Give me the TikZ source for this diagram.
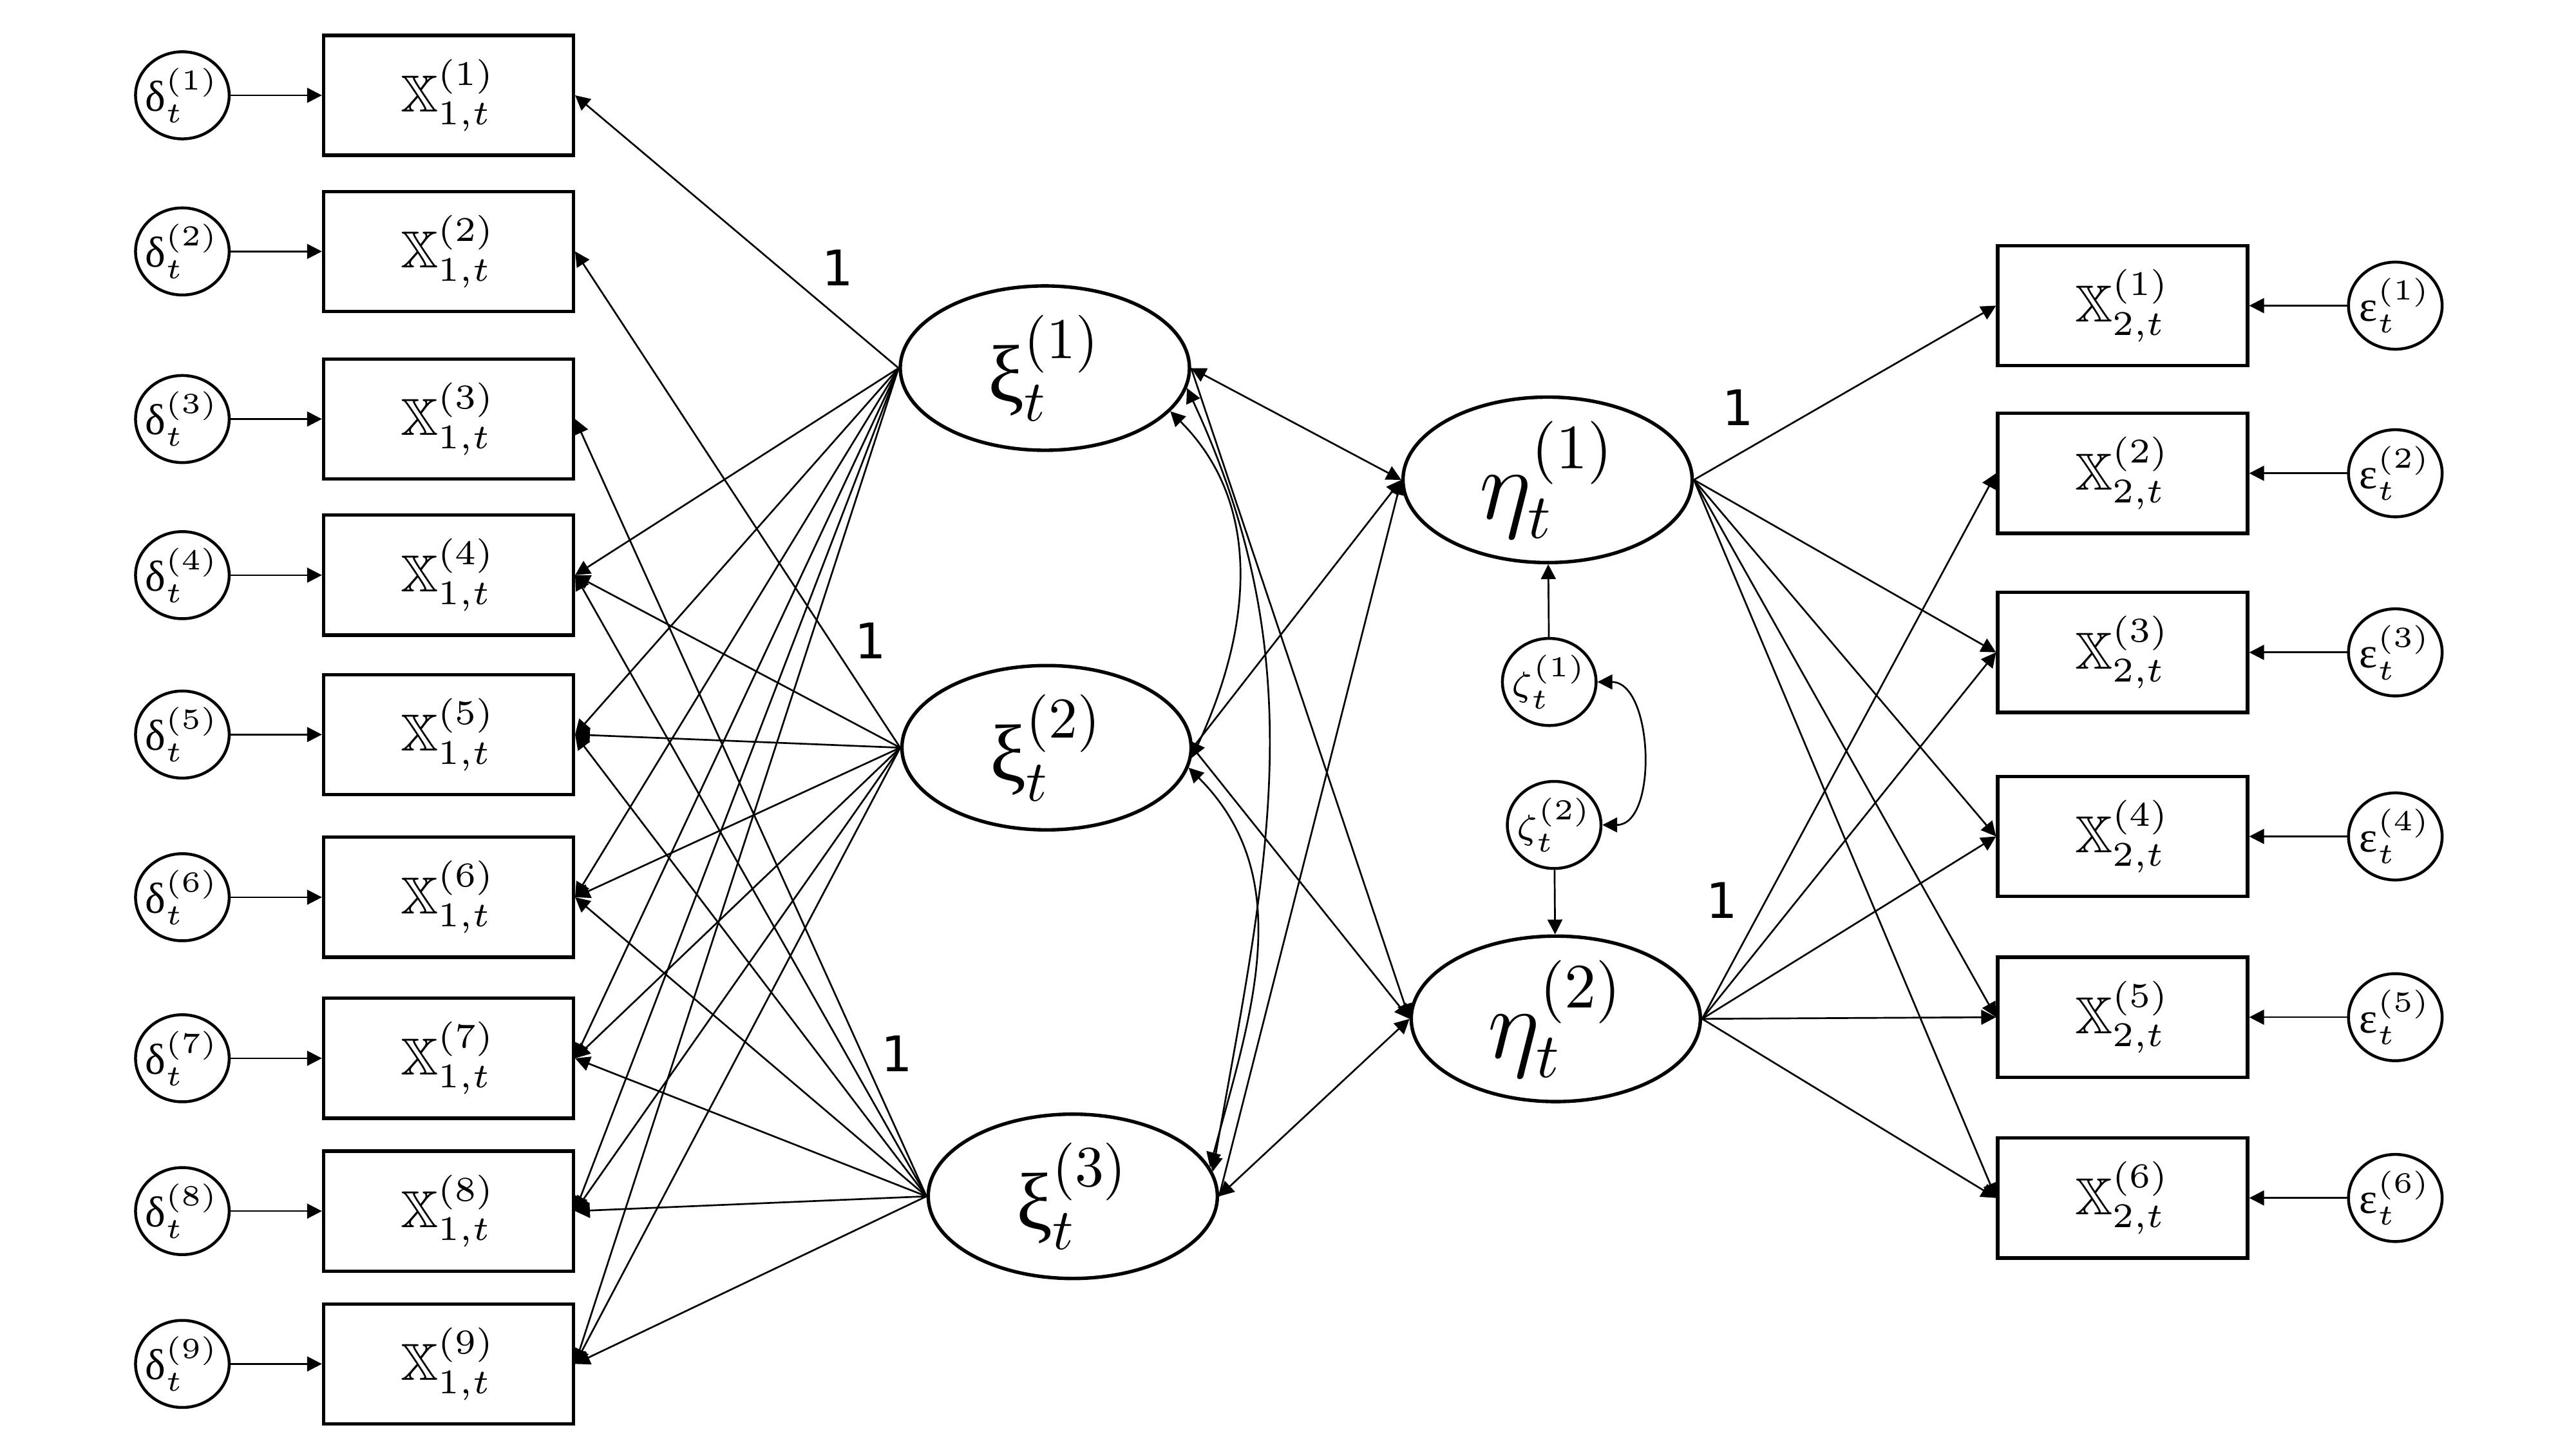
\documentclass[tikz,border=0pt]{standalone}
\usepackage{amsmath,amssymb}
\usepackage{fontspec}
\newfontfamily\grk{Liberation Serif}
\newfontfamily\numfont{DejaVu Sans}
\usetikzlibrary{shapes.geometric,arrows.meta}
\newcommand{\ug}[1]{\text{\grk #1}}

\begin{document}
\begin{tikzpicture}[obs/.style={draw, line width=0.6pt, minimum width=1.52cm, minimum height=0.73cm, inner sep=0pt, font=\fontsize{9}{10}\selectfont},
  err/.style={draw, ellipse, line width=0.5pt, minimum width=0.57cm, minimum height=0.53cm, inner sep=-1.2pt, font=\fontsize{7.5}{9}\selectfont},
  dist/.style={err, font=\fontsize{6.5}{8}\selectfont},
  lat/.style={draw, ellipse, line width=0.6pt, minimum width=1.76cm, minimum height=1cm, inner sep=0pt, font=\fontsize{14}{16}\selectfont},
  arr/.style={line width=0.3pt, -{Triangle[length=0.09cm,width=0.09cm]}},
  cov/.style={line width=0.3pt, {Triangle[length=0.09cm,width=0.09cm]}-{Triangle[length=0.09cm,width=0.09cm]}},
  fixlab/.style={font=\numfont\fontsize{8.5}{10}\selectfont}]
  \useasboundingbox (0,0) rectangle (15.68,8.82);

  % left indicators and their errors
  \node[err] (d1) at (1.11,8.24) {$\ug{δ}_t^{(1)}$};
  \node[err] (d2) at (1.11,7.29) {$\ug{δ}_t^{(2)}$};
  \node[err] (d3) at (1.11,6.27) {$\ug{δ}_t^{(3)}$};
  \node[err] (d4) at (1.11,5.32) {$\ug{δ}_t^{(4)}$};
  \node[err] (d5) at (1.11,4.35) {$\ug{δ}_t^{(5)}$};
  \node[err] (d6) at (1.11,3.36) {$\ug{δ}_t^{(6)}$};
  \node[err] (d7) at (1.11,2.38) {$\ug{δ}_t^{(7)}$};
  \node[err] (d8) at (1.11,1.45) {$\ug{δ}_t^{(8)}$};
  \node[err] (d9) at (1.11,0.52) {$\ug{δ}_t^{(9)}$};
  \node[obs] (x1) at (2.73,8.24) {$\mathbb{X}_{1,t}^{(1)}$};
  \node[obs] (x2) at (2.73,7.29) {$\mathbb{X}_{1,t}^{(2)}$};
  \node[obs] (x3) at (2.73,6.27) {$\mathbb{X}_{1,t}^{(3)}$};
  \node[obs] (x4) at (2.73,5.32) {$\mathbb{X}_{1,t}^{(4)}$};
  \node[obs] (x5) at (2.73,4.35) {$\mathbb{X}_{1,t}^{(5)}$};
  \node[obs] (x6) at (2.73,3.36) {$\mathbb{X}_{1,t}^{(6)}$};
  \node[obs] (x7) at (2.73,2.38) {$\mathbb{X}_{1,t}^{(7)}$};
  \node[obs] (x8) at (2.73,1.45) {$\mathbb{X}_{1,t}^{(8)}$};
  \node[obs] (x9) at (2.73,0.52) {$\mathbb{X}_{1,t}^{(9)}$};

  % latent factors
  \node[lat] (xi1) at (6.36,6.58) {$\ug{ξ}_t^{(1)}$};
  \node[lat] (xi2) at (6.37,4.27) {$\ug{ξ}_t^{(2)}$};
  \node[lat] (xi3) at (6.53,1.54) {$\ug{ξ}_t^{(3)}$};
  \node[lat, font=\fontsize{16}{18}\selectfont] (eta1) at (9.42,5.90) {$\eta_t^{(1)}$};
  \node[lat, font=\fontsize{16}{18}\selectfont] (eta2) at (9.47,2.62) {$\eta_t^{(2)}$};
  \node[dist] (zeta1) at (9.43,4.67) {$\zeta_t^{(1)}$};
  \node[dist] (zeta2) at (9.46,3.80) {$\zeta_t^{(2)}$};

  % right indicators and their errors
  \node[obs] (y1) at (12.92,6.96) {$\mathbb{X}_{2,t}^{(1)}$};
  \node[obs] (y2) at (12.92,5.94) {$\mathbb{X}_{2,t}^{(2)}$};
  \node[obs] (y3) at (12.92,4.85) {$\mathbb{X}_{2,t}^{(3)}$};
  \node[obs] (y4) at (12.92,3.73) {$\mathbb{X}_{2,t}^{(4)}$};
  \node[obs] (y5) at (12.92,2.63) {$\mathbb{X}_{2,t}^{(5)}$};
  \node[obs] (y6) at (12.92,1.53) {$\mathbb{X}_{2,t}^{(6)}$};
  \node[err] (e1) at (14.58,6.96) {$\ug{ε}_t^{(1)}$};
  \node[err] (e2) at (14.58,5.94) {$\ug{ε}_t^{(2)}$};
  \node[err] (e3) at (14.58,4.85) {$\ug{ε}_t^{(3)}$};
  \node[err] (e4) at (14.58,3.73) {$\ug{ε}_t^{(4)}$};
  \node[err] (e5) at (14.58,2.63) {$\ug{ε}_t^{(5)}$};
  \node[err] (e6) at (14.58,1.53) {$\ug{ε}_t^{(6)}$};

  % fixed loadings
  \node[fixlab] (l1) at (5.10,7.19) {1};
  \node[fixlab] (l2) at (5.30,4.92) {1};
  \node[fixlab] (l3) at (5.46,2.41) {1};
  \node[fixlab] (l4) at (10.58,6.34) {1};
  \node[fixlab] (l5) at (10.48,3.34) {1};

  \foreach \i in {1,...,9} \draw[arr] (d\i) -- (x\i);
  \foreach \i in {1,...,6} \draw[arr] (e\i) -- (y\i);

  \draw[arr] (xi1.west) -- (x1.east);
  \draw[arr] (xi2.west) -- (x2.east);
  \draw[arr] (xi3.west) -- (x3.east);
  \foreach \i in {4,...,9} {
    \draw[arr] (xi1.west) -- (x\i.east);
    \draw[arr] (xi2.west) -- (x\i.east);
    \draw[arr] (xi3.west) -- (x\i.east);
  }

  \draw[arr] (eta1.east) -- (y1.west);
  \draw[arr] (eta2.east) -- (y2.west);
  \foreach \i in {3,...,6} {
    \draw[arr] (eta1.east) -- (y\i.west);
    \draw[arr] (eta2.east) -- (y\i.west);
  }

  % structural part
  \draw[cov] (xi1.east) -- (eta1.west);
  \draw[arr] (xi1.east) -- (eta2.west);
  \draw[arr] (xi2.east) -- (eta1.west);
  \draw[arr] (xi2.east) -- (eta2.west);
  \draw[arr] (xi3.east) -- (eta1.west);
  \draw[cov] (xi3.east) -- (eta2.west);
  \draw[cov] (xi1.-19) to[out=-45,in=65] (xi2.-4);
  \draw[cov] (xi1.-8) to[out=-65,in=80] (xi3.10);
  \draw[cov] (xi2.-8) to[out=-45,in=75] (xi3.12);
  \draw[arr] (zeta1) -- (eta1);
  \draw[arr] (zeta2) -- (eta2);
  \draw[cov] (zeta1.east) to[out=0,in=0,looseness=1.0] (zeta2.east);
\end{tikzpicture}
\end{document}
